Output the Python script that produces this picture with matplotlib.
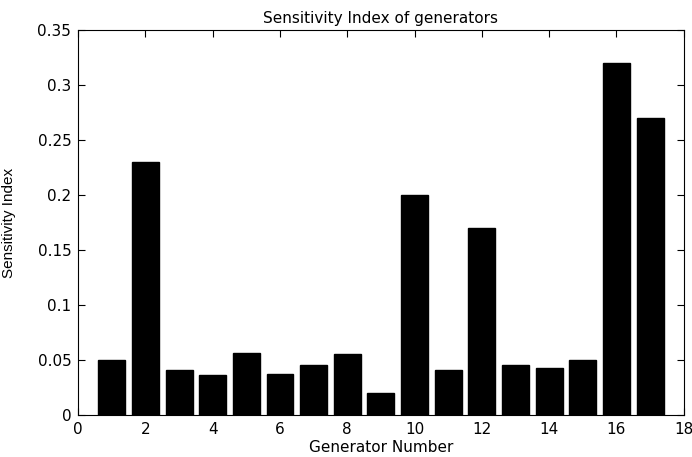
import matplotlib
matplotlib.use("Agg")
import matplotlib.pyplot as plt

generators = list(range(1, 18))
sensitivity = [0.050, 0.230, 0.041, 0.036, 0.056, 0.037, 0.045, 0.055, 0.020,
               0.200, 0.041, 0.170, 0.045, 0.043, 0.050, 0.320, 0.270]
xticks = [0, 2, 4, 6, 8, 10, 12, 14, 16, 18]
yticks = [0, 0.05, 0.1, 0.15, 0.2, 0.25, 0.3, 0.35]
yticklabels = ["0", "0.05", "0.1", "0.15", "0.2", "0.25", "0.3", "0.35"]

plt.rcParams['font.family'] = ['DejaVu Sans']

fig = plt.figure(figsize=(6.92, 4.57), dpi=100)
ax = fig.add_axes([0.113, 0.092, 0.875, 0.842])
ax.bar(generators, sensitivity, width=0.8, color='black', edgecolor='black')
ax.set_xlim(0, 18)
ax.set_ylim(0, 0.35)
ax.set_xticks(xticks)
ax.set_yticks(yticks)
ax.set_yticklabels(yticklabels)
ax.tick_params(direction='in', top=True, right=True, labelsize=11, length=5, width=0.8)
ax.tick_params(axis='x', pad=5)
ax.tick_params(axis='y', pad=5)
for s in ax.spines.values():
    s.set_linewidth(0.8)
ax.set_title("Sensitivity Index of generators", fontsize=11, pad=5)
ax.set_xlabel("Generator Number", fontsize=11)
ax.set_ylabel("Sensitivity Index", fontsize=11, family=['Liberation Sans', 'DejaVu Sans'])
ax.xaxis.set_label_coords(0.5, -0.065)
ax.yaxis.set_label_coords(-0.102, 0.5)
fig.savefig("out.png", dpi=100)
